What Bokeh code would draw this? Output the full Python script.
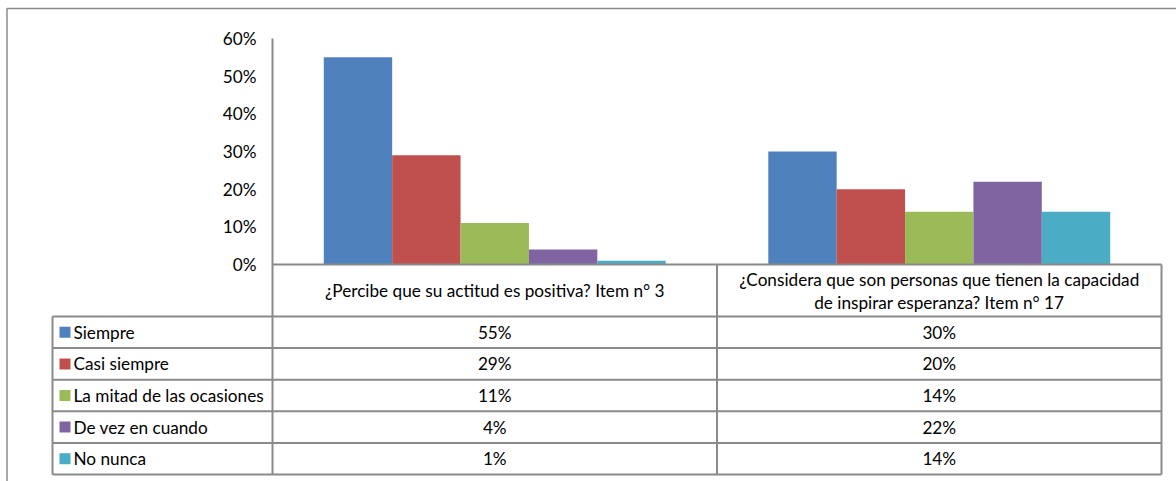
from bokeh.plotting import figure
from bokeh.models import LinearAxis, FixedTicker, NumeralTickFormatter, Range1d
from bokeh.core.properties import value
from bokeh.embed import file_html
from bokeh.resources import INLINE

# ---- data -------------------------------------------------------------
categories = [
    "¿Percibe que su actitud es positiva? Item n° 3",
    "¿Considera que son personas que tienen la capacidad\nde inspirar esperanza? Item n° 17",
]
series = ["Siempre", "Casi siempre", "La mitad de las ocasiones", "De vez en cuando", "No nunca"]
siempre = [55, 30]
casi_siempre = [29, 20]
mitad = [11, 14]
de_vez = [4, 22]
no_nunca = [1, 14]
values = [siempre, casi_siempre, mitad, de_vez, no_nunca]
colors = ["#4F81BD", "#C0504D", "#9BBB59", "#8064A2", "#4BACC6"]
y_ticks = [0, 10, 20, 30, 40, 50, 60]

# ---- layout (pixels) --------------------------------------------------
W, H = 1176, 481
PLOT_L, PLOT_R = 272, 1161          # category axis extent
Y0_PX, YTOP_PX = 264, 38            # 0 % and 60 % positions
TABLE_L, HEAD_B, TABLE_B = 52, 316, 474
ROW_H = (TABLE_B - HEAD_B) / len(series)
HEAD_LINE = 23                      # line spacing of wrapped header labels
FONT = value("Lato")
FS = "17.2px"
LINE = "#8a8a8a"

u = (PLOT_R - PLOT_L) / len(categories)          # px per category
v = (Y0_PX - YTOP_PX) / max(y_ticks)             # px per percent
x_start = -0.5 - PLOT_L / u
x_end = len(categories) - 0.5 + (W - PLOT_R) / u
y_end = max(y_ticks) + YTOP_PX / v
y_start = -(H - Y0_PX) / v


def X(px):
    return x_start + px / u


def Y(py):
    return y_end - py / v


p = figure(width=W, height=H, output_backend="svg", toolbar_location=None,
           x_axis_location=None, y_axis_location=None, min_border=0,
           x_range=Range1d(x_start, x_end), y_range=Range1d(y_start, y_end))
p.outline_line_color = None
p.background_fill_color = "white"
p.border_fill_color = "white"
p.grid.visible = False

# ---- clustered bars (gap width 150 %) ---------------------------------
bw = 1 / (len(series) + 1.5)
for s, (vals, col) in enumerate(zip(values, colors)):
    xs = [i + (s - (len(series) - 1) / 2) * bw for i in range(len(categories))]
    p.vbar(x=xs, top=vals, bottom=0, width=bw, fill_color=col, line_color=None)

# ---- value axis ---------------------------------------------------------
yaxis = LinearAxis(fixed_location=-0.5, ticker=FixedTicker(ticks=y_ticks),
                   formatter=NumeralTickFormatter(format="0"),
                   axis_line_color=None, major_tick_line_color=None,
                   minor_tick_line_color=None, major_tick_out=0, major_tick_in=0,
                   major_label_standoff=16,
                   major_label_text_font="Lato", major_label_text_font_size=FS,
                   major_label_text_color="#000000")
yaxis.major_label_overrides = {t: f"{t}%" for t in y_ticks}
p.add_layout(yaxis, "left")

# ---- axis lines and data table grid -------------------------------------
n = len(categories)
line_xs, line_ys = [], []
# value axis line continuing down as the table's first column rule
line_xs.append([-0.5, -0.5]); line_ys.append([max(y_ticks), Y(TABLE_B)])
# category axis line
line_xs.append([-0.5, n - 0.5]); line_ys.append([0, 0])
# column rules between / after categories
for k in range(1, n + 1):
    line_xs.append([k - 0.5, k - 0.5]); line_ys.append([0, Y(TABLE_B)])
# legend column left rule
line_xs.append([X(TABLE_L), X(TABLE_L)]); line_ys.append([Y(HEAD_B), Y(TABLE_B)])
# row rules
for r in range(len(series) + 1):
    yy = Y(HEAD_B + r * ROW_H)
    line_xs.append([X(TABLE_L), n - 0.5]); line_ys.append([yy, yy])
p.multi_line(xs=line_xs, ys=line_ys, line_color=LINE, line_width=2)

# chart area frame (top and left edges)
p.multi_line(xs=[[X(6.5), X(6.5), x_end]], ys=[[y_start, Y(8), Y(8)]],
             line_color="#8c8c8c", line_width=1.5)

# ---- category labels (header row), wrapped lines centred in the cell ----
head_mid = (Y0_PX + HEAD_B) / 2
lx, ly, lt = [], [], []
for i, cat in enumerate(categories):
    lines = cat.split("\n")
    for j, ln in enumerate(lines):
        lx.append(i)
        ly.append(Y(head_mid + (j - (len(lines) - 1) / 2) * HEAD_LINE))
        lt.append(ln)
p.text(x=lx, y=ly, text=lt, text_font=FONT, text_font_size=FS,
       text_color="#000000", text_align="center", text_baseline="middle")

# ---- table rows: legend keys, series names, values ----------------------
row_y = [Y(HEAD_B + (r + 0.5) * ROW_H) for r in range(len(series))]
p.scatter(x=[X(64.5)] * len(series), y=row_y, marker="square", size=11,
          fill_color=colors, line_color=None)
p.text(x=[X(73)] * len(series), y=row_y, text=series, text_font=FONT,
       text_font_size=FS, text_color="#000000", text_align="left",
       text_baseline="middle")
for i in range(n):
    p.text(x=[i] * len(series), y=row_y, text=[f"{vals[i]}%" for vals in values],
           text_font=FONT, text_font_size=FS, text_color="#000000",
           text_align="center", text_baseline="middle")

open("out.html", "w").write(file_html(p, INLINE))
